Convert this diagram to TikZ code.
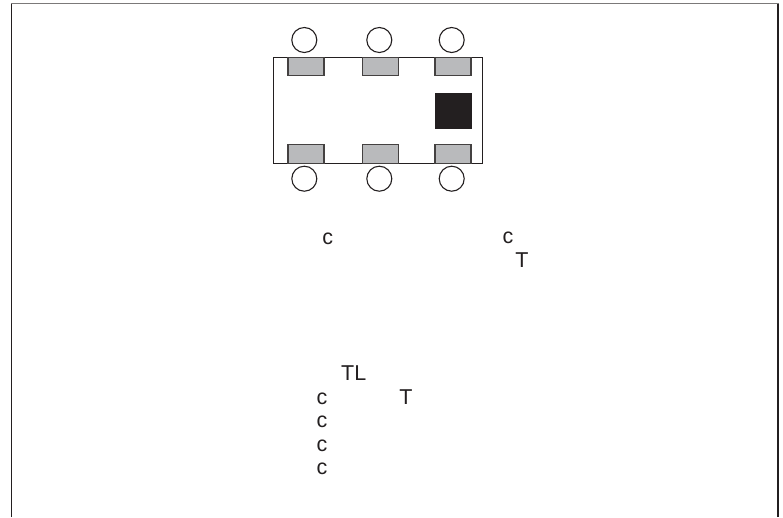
\documentclass[tikz,border=0pt]{standalone}
\usepackage{fontspec}
\setmainfont{Liberation Sans}
\definecolor{padgray}{HTML}{B9BABC}
\definecolor{padblack}{HTML}{231F20}
\tikzset{
    outline/.style={draw=padblack,line width=1.1pt},
    pad/.style={draw=padblack!85,line width=1.1pt,fill=padgray},
    lbl/.style={anchor=base,inner sep=0pt,outer sep=0pt,text=padblack,font=\fontsize{21.5}{21.5}\selectfont},
}
\begin{document}
\begin{tikzpicture}[x=1pt,y=-1pt]
    \useasboundingbox (0,0) rectangle (783,517);
    % frame
    \draw[padblack!60,line width=1.2pt] (11,3.6) -- (778.5,3.6);
    \draw[padblack,line width=1.3pt] (11.5,517) -- (11.5,3.6);
    \draw[padblack,line width=1.3pt] (778,517) -- (778,3.6);

    % package
    \draw[outline] (273.5,57.3) rectangle (482.7,163.3);
    \foreach \x in {288,362.3,435}{
        \draw[pad] (\x,57.3) rectangle ++(36,18.4);
        \draw[pad] (\x,144.7) rectangle ++(36,18.6);
    }
    \fill[padblack] (435,92.7) rectangle (471.7,128.7);
    \foreach \x in {304.3,379.3,451.7}{
        \draw[outline] (\x,40) circle (12.5);
        \draw[outline] (\x,178.7) circle (12.5);
    }

    % labels
    \node[lbl] (cleft) at (327.7,244.8) {c};
    \node[lbl] (cright) at (508,243.8) {c};
    \node[lbl] (tright) at (522,267.5) {T};
    \node[lbl] (tl) at (353.7,380) {TL};
    \node[lbl] (tlow) at (406,404) {T};
    \node[lbl] (cone) at (322,404) {c};
    \node[lbl] (ctwo) at (322,427.7) {c};
    \node[lbl] (cthree) at (322,451.3) {c};
    \node[lbl] (cfour) at (322,474.8) {c};
\end{tikzpicture}
\end{document}
